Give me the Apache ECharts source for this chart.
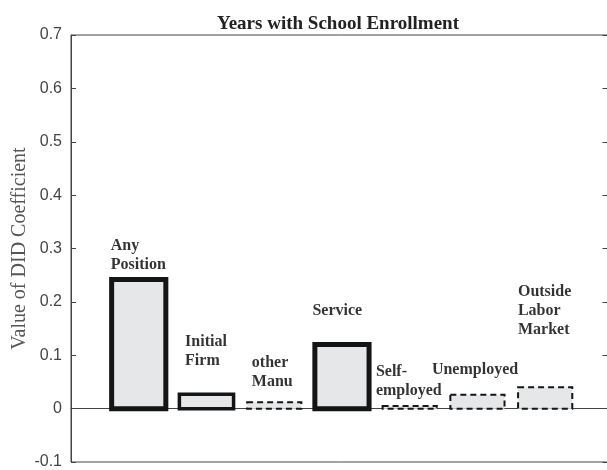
<!DOCTYPE html>
<html>
<head>
<meta charset="utf-8">
<script src="https://cdn.jsdelivr.net/npm/echarts@6/dist/echarts.min.js"></script>
<style>
html,body{margin:0;padding:0;background:#fff;}
#chart{width:607px;height:470px;}
</style>
</head>
<body>
<div id="chart"></div>
<script>
// ---- data ----
var categories = ["Any\nPosition", "Initial\nFirm", "other\nManu", "Service", "Self-\nemployed", "Unemployed", "Outside\nLabor\nMarket"];
var values = [0.242, 0.027, 0.012, 0.120, 0.005, 0.026, 0.040];
var yTicks = [-0.1, 0, 0.1, 0.2, 0.3, 0.4, 0.5, 0.6, 0.7];

// ---- layout / style (separate from data) ----
var labelAnchors = [[0.586, 0.323], [1.684, 0.143], [2.669, 0.103], [3.564, 0.201], [4.501, 0.086], [5.328, 0.090], [6.598, 0.237]];
var barStyles = [
  {w: 5, t: null}, {w: 3.5, t: null}, {w: 2, t: [6, 4]}, {w: 5, t: null},
  {w: 2, t: [6, 4]}, {w: 2, t: [6, 4]}, {w: 2, t: [6, 4]}
];
var BAR_HALF = 0.4;

var chart = echarts.init(document.getElementById('chart'));
var barData = values.map(function (v, i) { return [i + 1, v, i]; });
var labelData = categories.map(function (c, i) {
  return {value: [labelAnchors[i][0], labelAnchors[i][1]], name: c};
});

chart.setOption({
  animation: false,
  backgroundColor: '#fff',
  title: {
    text: 'Years with School Enrollment',
    left: 333, top: 10, textAlign: 'center',
    textStyle: {fontFamily: 'Liberation Serif', fontWeight: 'bold', fontSize: 19, color: '#222'}
  },
  grid: {left: 71, top: 35, right: -0.5, bottom: 8, containLabel: false, outerBoundsMode: 'none',
    show: true, borderColor: '#444', borderWidth: 1, backgroundColor: 'transparent'},
  xAxis: {
    type: 'value', min: 0, max: 7.92,
    axisLine: {show: true, onZero: true, lineStyle: {color: '#444', width: 1}},
    axisTick: {show: false}, axisLabel: {show: false}, splitLine: {show: false}
  },
  yAxis: [{
    type: 'value', min: yTicks[0], max: yTicks[yTicks.length - 1], interval: 0.1,
    name: 'Value of DID Coefficient', nameLocation: 'middle', nameGap: 41, nameMoveOverlap: false,
    nameTextStyle: {fontFamily: 'Liberation Serif', fontSize: 20, color: '#555'},
    axisLine: {show: true, lineStyle: {color: '#444'}},
    axisTick: {show: true, inside: true, length: 5, lineStyle: {color: '#444'}},
    axisLabel: {margin: 9, fontFamily: 'Liberation Sans', fontSize: 16, color: '#444',
      formatter: function (v) { return String(Math.round(v * 10) / 10); }},
    splitLine: {show: false}
  }, {
    type: 'value', position: 'right', min: yTicks[0], max: yTicks[yTicks.length - 1], interval: 0.1,
    axisLine: {show: false},
    axisTick: {show: true, inside: true, length: 5, lineStyle: {color: '#444'}},
    axisLabel: {show: false}, splitLine: {show: false}
  }],
  series: [{
    type: 'custom',
    data: barData,
    encode: {x: 0, y: 1},
    renderItem: function (params, api) {
      var x = api.value(0), v = api.value(1), idx = api.value(2);
      var p1 = api.coord([x - BAR_HALF, v]);
      var p2 = api.coord([x + BAR_HALF, 0]);
      var st = barStyles[idx];
      return {
        type: 'rect',
        shape: {x: p1[0], y: Math.min(p1[1], p2[1]), width: p2[0] - p1[0], height: Math.abs(p2[1] - p1[1])},
        style: {fill: '#e6e7e9', stroke: '#151515', lineWidth: st.w, lineDash: st.t, lineJoin: 'miter'}
      };
    }
  }, {
    type: 'scatter',
    symbolSize: 0,
    data: labelData,
    silent: true,
    label: {
      show: true, position: [0, 0], align: 'left', verticalAlign: 'top',
      formatter: function (p) { return p.name; },
      fontFamily: 'Liberation Serif', fontWeight: 'bold', fontSize: 16, lineHeight: 19, color: '#000'
    }
  }]
});
</script>
</body>
</html>
